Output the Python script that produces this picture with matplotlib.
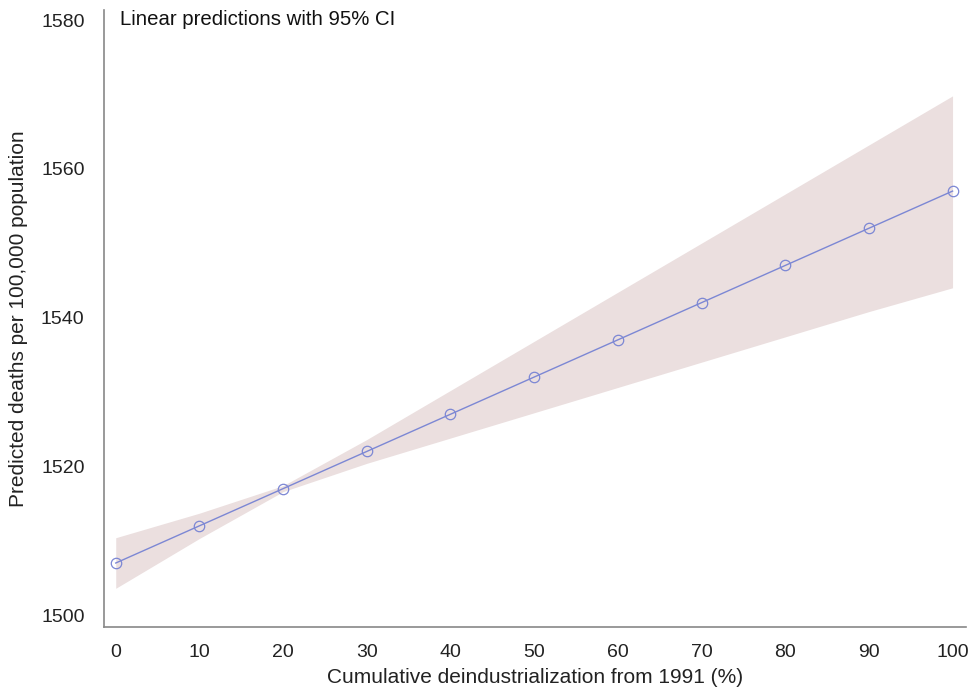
import numpy as np
import matplotlib.pyplot as plt

plt.rcParams['font.family'] = ['Liberation Sans', 'DejaVu Sans']

x = [0, 10, 20, 30, 40, 50, 60, 70, 80, 90, 100]
pred = [1507, 1512, 1517, 1522, 1527, 1532, 1537, 1542, 1547, 1552, 1557]
ci_low = [1503.6, 1510.3, 1516.6, 1520.4, 1523.8, 1527.2, 1530.6, 1534.0, 1537.4, 1540.8, 1544.0]
ci_high = [1510.4, 1513.7, 1517.4, 1523.6, 1530.2, 1536.8, 1543.4, 1550.0, 1556.6, 1563.2, 1569.8]

fig = plt.figure(figsize=(9.75, 6.89), dpi=100)
ax = fig.add_axes([0.1067, 0.09, 0.884, 0.895])

ax.fill_between(x, ci_low, ci_high, color='#ebdfdf', linewidth=0)
ax.plot(x, pred, color='#7c87d4', linewidth=1, marker='o', markersize=7.5,
        markerfacecolor='none', markeredgecolor='#7c87d4', markeredgewidth=0.9)

ax.set_xlim(-1.4, 101.6)
ax.set_ylim(1498.4, 1581.3)
ax.set_xticks(x)
ax.set_yticks([1500, 1520, 1540, 1560, 1580])
ax.tick_params(length=0, labelsize=14, colors='#222222')
ax.tick_params(axis='x', pad=12)
ax.tick_params(axis='y', pad=14)

for s in ['top', 'right']:
    ax.spines[s].set_visible(False)
for s in ['left', 'bottom']:
    ax.spines[s].set_color('#888888')
    ax.spines[s].set_linewidth(1.2)

ax.set_xlabel('Cumulative deindustrialization from 1991 (%)', fontsize=15, color='#222222', labelpad=5)
ax.set_ylabel('Predicted deaths per 100,000 population', fontsize=15, color='#222222', labelpad=9)
ax.text(0.018, 0.985, 'Linear predictions with 95% CI', transform=ax.transAxes,
        fontsize=14.7, color='#111111', va='center', ha='left')

plt.savefig('out.png', dpi=100)
